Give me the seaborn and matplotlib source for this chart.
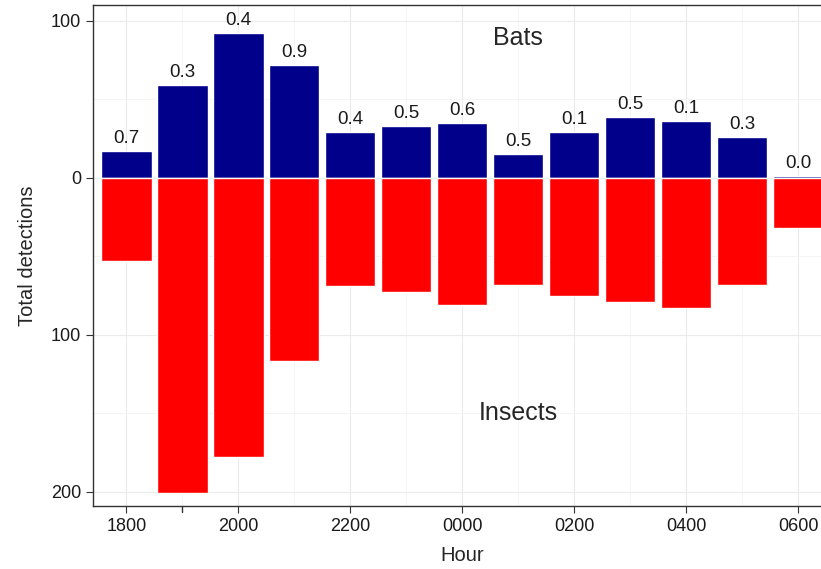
import matplotlib
matplotlib.use("Agg")
import matplotlib.pyplot as plt
from matplotlib.ticker import FuncFormatter, FixedLocator
import seaborn as sns
import pandas as pd

# Data
hours = ["1800", "1900", "2000", "2100", "2200", "2300", "0000",
         "0100", "0200", "0300", "0400", "0500", "0600"]
bats = [17, 59, 92, 72, 29, 33, 35, 15, 29, 39, 36, 26, 1]
insects = [53, 201, 178, 117, 69, 73, 81, 68, 75, 79, 83, 68, 32]
ratio_labels = ["0.7", "0.3", "0.4", "0.9", "0.4", "0.5", "0.6",
                "0.5", "0.1", "0.5", "0.1", "0.3", "0.0"]

df = pd.DataFrame({"hour": hours, "bats": bats,
                   "insects": [-v for v in insects]})

sns.set_style("white")
plt.rcParams["font.family"] = ["Liberation Sans", "DejaVu Sans"]

fig = plt.figure(figsize=(8.21, 5.69), dpi=100)
ax = fig.add_axes([0.113, 0.111, 0.9, 0.88])

sns.barplot(data=df, x="hour", y="bats", order=hours, color="#00008B",
            saturation=1, width=0.9, ax=ax, zorder=3)
sns.barplot(data=df, x="hour", y="insects", order=hours, color="#FF0000",
            saturation=1, width=0.9, ax=ax, zorder=3)

# ratio labels above the bat bars
for i, lab in enumerate(ratio_labels):
    ax.text(i, bats[i] + 2.5, lab, ha="center", va="bottom", fontsize=13.5,
            color="#1a1a1a")

ax.text(7, 89, "Bats", ha="center", va="center", fontsize=18)
ax.text(7, -150, "Insects", ha="center", va="center", fontsize=18)

ax.set_xlim(-0.6, 12.6)
ax.set_ylim(-209, 110)

ax.yaxis.set_major_locator(FixedLocator([-200, -100, 0, 100]))
ax.yaxis.set_major_formatter(FuncFormatter(lambda v, p: f"{abs(v):.0f}"))
ax.yaxis.set_minor_locator(FixedLocator([-150, -50, 50]))

major_x = [0, 2, 4, 6, 8, 10, 12]
ax.xaxis.set_major_locator(FixedLocator(major_x))
ax.set_xticklabels([hours[i] for i in major_x])
ax.xaxis.set_minor_locator(FixedLocator([1, 3, 5, 7, 9, 11]))

ax.grid(True, which="major", color="#ebebeb", linewidth=0.8, zorder=0)
ax.grid(True, which="minor", color="#f2f2f2", linewidth=0.6, zorder=0)
ax.set_axisbelow(True)

for s in ax.spines.values():
    s.set_color("#333333")
    s.set_linewidth(1.0)

ax.tick_params(axis="both", which="major", direction="out", length=5,
               color="#333333", labelsize=13, labelcolor="#1a1a1a",
               bottom=True, left=True)
ax.tick_params(axis="y", which="minor", length=0, left=False)
ax.tick_params(axis="x", which="minor", length=0, bottom=False)
# odd stray tick under 1900
ax.plot([1, 1], [0, -0.012], transform=ax.get_xaxis_transform(),
        color="#333333", lw=1.0, clip_on=False)

ax.set_xlabel("Hour", fontsize=14.5, labelpad=8)
ax.set_ylabel("Total detections", fontsize=14.5, labelpad=10)

fig.savefig("out.png", dpi=100)
